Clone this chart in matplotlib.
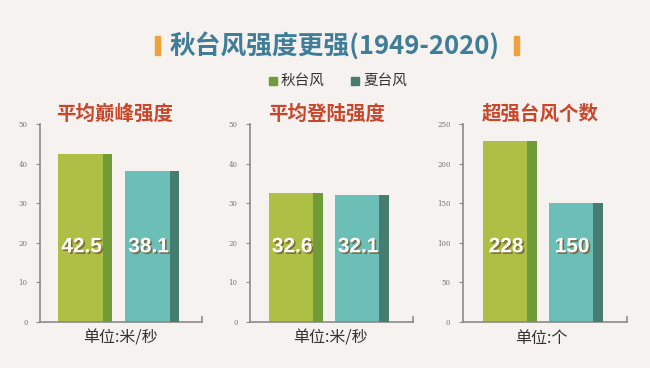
import matplotlib.pyplot as plt
import matplotlib.patheffects as pe

plt.rcParams['font.family'] = ['Noto Sans CJK SC', 'DejaVu Sans']

series = ['秋台风', '夏台风']
panel_titles = ['平均巅峰强度', '平均登陆强度', '超强台风个数']
units = ['单位:米/秒', '单位:米/秒', '单位:个']
autumn = [42.5, 32.6, 228]
summer = [38.1, 32.1, 150]
ymax = [50, 50, 250]
ystep = [10, 10, 50]

bg = '#f5f2ef'
light = ['#adbf45', '#6cbfb6']
dark = ['#6f9b39', '#477d70']

W, H = 650, 368
fig = plt.figure(figsize=(6.5, 3.68), dpi=100, facecolor=bg)

# axes boxes in pixels: left, right
boxes = [(40, 202), (250, 413), (463, 627)]
centers = [(85, 152), (295.5, 361.5), (509.5, 575.5)]
title_x = [115, 327, 540]
unit_x = [120, 330, 541]
top_px, bot_px = 124, 322

for i in range(3):
    l, r = boxes[i]
    ax = fig.add_axes([l / W, (H - bot_px) / H, (r - l) / W, (bot_px - top_px) / H])
    ax.set_facecolor('none')
    c0, c1 = centers[i]
    sp = c1 - c0
    ax.set_xlim((l - c0) / sp, (r - c0) / sp)
    ax.set_ylim(0, ymax[i])
    bw = 54 / sp
    dw = 9.5 / sp
    vals = [autumn[i], summer[i]]
    for j in range(2):
        ax.bar(j, vals[j], width=bw, color=light[j], zorder=2)
        ax.bar(j + bw / 2 - dw, vals[j], width=dw, align='edge', color=dark[j], zorder=3)
        txt = ('%g' % vals[j]) if i < 2 else str(int(vals[j]))
        ax.text(j - 0.05, ymax[i] * 0.38, txt, ha='center', va='center', color='white',
                fontsize=15, fontweight='bold', family='Liberation Sans', zorder=5,
                path_effects=[pe.withSimplePatchShadow(offset=(1.2, -1.2),
                                                       shadow_rgbFace='#7a5a30', alpha=0.8)])
    for s in ['top', 'right']:
        ax.spines[s].set_visible(False)
    for s in ['left', 'bottom']:
        ax.spines[s].set_color('#8a8a8a')
        ax.spines[s].set_linewidth(1.2)
    ax.set_yticks(range(0, ymax[i] + 1, ystep[i]))
    ax.set_xticks([])
    ax.tick_params(axis='y', length=3, width=0.8, color='#8a8a8a', labelsize=5,
                   labelcolor='#777777', pad=6)
    for lab in ax.get_yticklabels():
        lab.set_family('DejaVu Serif')
    # small end tick on the bottom axis
    ax.plot([1, 1], [0, 0.025], transform=ax.transAxes,
            color='#8a8a8a', lw=1.2, clip_on=False)
    fig.text(title_x[i] / W, 1 - 114 / H, panel_titles[i], ha='center', va='center',
             fontsize=14, fontweight='bold', color='#c9462b')
    fig.text(unit_x[i] / W, 1 - 338 / H, units[i], ha='center', va='center',
             fontsize=11.5, color='#333333')

fig.text(335 / W, 1 - 46 / H, '秋台风强度更强(1949-2020)', ha='center', va='center',
         fontsize=18.5, fontweight='bold', color='#3f7d98')
for x in [155, 514]:
    fig.patches.append(plt.Rectangle((x / W, 1 - 55 / H), 5 / W, 19 / H,
                                     transform=fig.transFigure, color='#f0a23a'))

leg_x = [269, 351]
for j in range(2):
    fig.patches.append(plt.Rectangle((leg_x[j] / W, 1 - 85 / H), 8 / W, 8 / H,
                                     transform=fig.transFigure, color=dark[j]))
    fig.text((leg_x[j] + 12) / W, 1 - 81 / H, series[j], ha='left', va='center',
             fontsize=10.5, color='#333333')

fig.savefig('out.png', dpi=100, facecolor=bg)
